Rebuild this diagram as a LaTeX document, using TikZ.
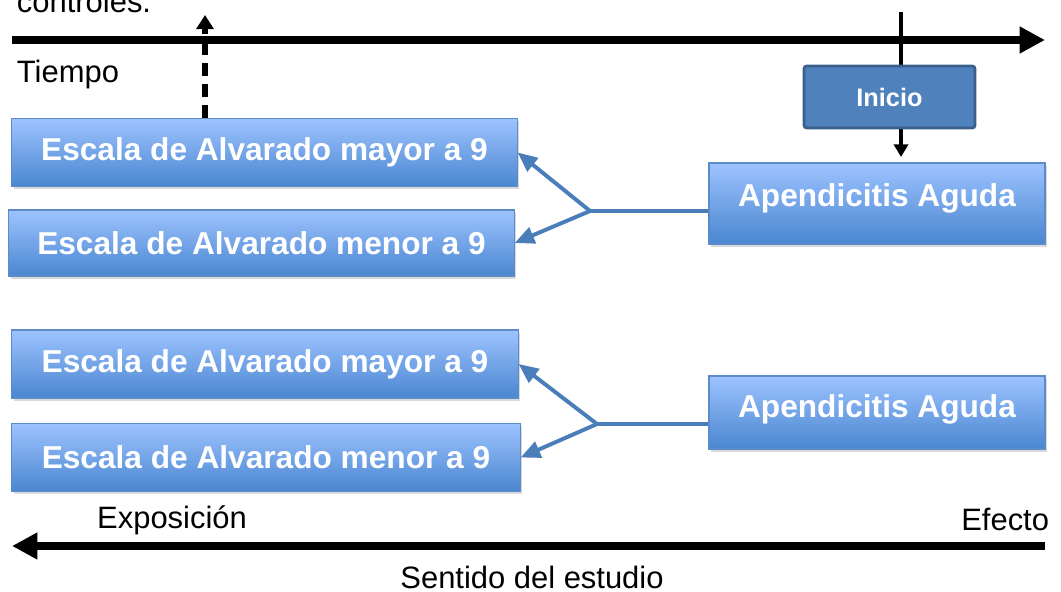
\documentclass[tikz,border=0pt]{standalone}
\usepackage{fontspec}
\setmainfont{Liberation Sans}
\usetikzlibrary{arrows.meta,shadows}

\definecolor{boxtop}{HTML}{9DC3FF}
\definecolor{boxbot}{HTML}{4A86D0}
\definecolor{boxline}{HTML}{5B8BC9}
\definecolor{linkblue}{HTML}{4A7EBB}
\definecolor{iniciofill}{HTML}{4F81BD}
\definecolor{inicioline}{HTML}{3B5F8C}

\tikzset{
  factor/.style={draw=boxline, line width=0.8pt, top color=boxtop, bottom color=boxbot,
    text=white, font=\bfseries\fontsize{22.5}{26}\selectfont, minimum height=1.7cm,
    drop shadow={opacity=0.3, shadow xshift=1.5pt, shadow yshift=-2pt}},
  link/.style={draw=linkblue, line width=2.8pt, -{Triangle[length=14pt,width=12pt]}},
  timeline/.style={line width=5.7pt, -{Triangle[length=18pt,width=18pt]}},
  label/.style={font=\fontsize{22}{26}\selectfont}
}

\begin{document}
\begin{tikzpicture}[x=0.025cm,y=-0.025cm]
      \useasboundingbox (0,0) rectangle (1061,592);
      % time axis
      \coordinate (t0) at (12,40);
      \coordinate (t1) at (1045,40);
      \node[label, anchor=base west] (ctl) at (12,12) {controles.};
      \node[label, anchor=west] (tiempo) at (12,75) {Tiempo};
      \draw[timeline] (t0) -- (t1);
      % first group
      \node[factor, minimum width=12.625cm] (may1) at (264.5,152.5) {Escala de Alvarado mayor a 9};
      \node[factor, minimum width=12.625cm, minimum height=1.65cm] (men1) at (261.5,243) {Escala de Alvarado menor a 9};
      \node[factor, minimum width=8.4cm, minimum height=2.025cm, text depth=12pt] (apa1) at (877,203.5) {Apendicitis Aguda};
      \coordinate (j1) at (590,211);
      \draw[draw=linkblue, line width=2.8pt] (j1 -| apa1.west) -- (j1);
      \draw[link] (j1) -- (may1.east);
      \draw[link] (j1) -- (men1.east);
      % start of the study
      \coordinate (i0) at (901,12);
      \coordinate (i1) at (901,157);
      \draw[line width=2.8pt, -{Triangle[length=9pt,width=10pt]}] (i0) -- (i1);
      \node[draw=inicioline, fill=iniciofill, line width=2pt, rounded corners=2pt,
        minimum width=4.275cm, minimum height=1.55cm, text=white,
        font=\bfseries\fontsize{18}{22}\selectfont] (inicio) at (889.5,97) {Inicio};
      \coordinate (c1) at (205,15);
      \draw[line width=3.8pt, dash pattern=on 9pt off 6pt, -{Triangle[length=10pt,width=12pt]}]
        (c1 |- may1.north) -- (c1);
      % second group
      \node[factor, minimum width=12.65cm] (may2) at (265,364) {Escala de Alvarado mayor a 9};
      \node[factor, minimum width=12.7cm] (men2) at (266,457.5) {Escala de Alvarado menor a 9};
      \node[factor, minimum width=8.4cm, minimum height=1.825cm, text depth=9pt] (apa2) at (877,412.5) {Apendicitis Aguda};
      \coordinate (j2) at (597,424);
      \draw[draw=linkblue, line width=2.8pt] (j2 -| apa2.west) -- (j2);
      \draw[link] (j2) -- (may2.east);
      \draw[link] (j2) -- (men2.east);
      % direction of the study
      \node[label] (expo) at (172,520) {Exposición};
      \node[label, anchor=east] (efecto) at (1054,519) {Efecto};
      \coordinate (s0) at (1045,546);
      \coordinate (s1) at (12,546);
      \draw[timeline] (s0) -- (s1);
      \node[label] (sentido) at (532,577) {Sentido del estudio};
\end{tikzpicture}
\end{document}
